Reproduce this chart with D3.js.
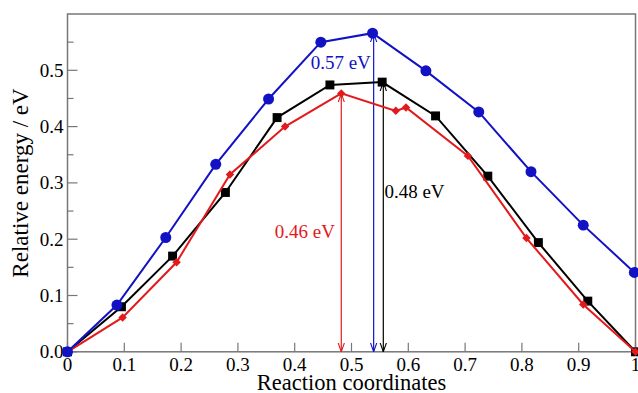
<!DOCTYPE html>
<html>
<head>
<meta charset="utf-8">
<script src="https://cdn.jsdelivr.net/npm/d3@7"></script>
<style>
  body { margin: 0; background: #fff; }
  svg { display: block; font-family: 'Liberation Serif', 'DejaVu Serif', serif; }
</style>
</head>
<body>
<div class="chart"></div>
<script>
const width = 638;
const height = 393;

// reaction coordinate / relative energy (eV)
const blueX = [0, 0.087, 0.173, 0.261, 0.354, 0.446, 0.537, 0.631, 0.724, 0.816, 0.908, 0.998];
const blueY = [0, 0.083, 0.203, 0.333, 0.449, 0.550, 0.566, 0.499, 0.426, 0.320, 0.225, 0.141];
const blackX = [0, 0.095, 0.185, 0.278, 0.369, 0.462, 0.554, 0.648, 0.740, 0.829, 0.916, 1.0];
const blackY = [0, 0.080, 0.170, 0.283, 0.416, 0.474, 0.479, 0.419, 0.312, 0.194, 0.090, 0];
const redX = [0, 0.097, 0.192, 0.286, 0.383, 0.482, 0.578, 0.596, 0.705, 0.808, 0.908, 1.0];
const redY = [0, 0.061, 0.159, 0.315, 0.400, 0.459, 0.428, 0.434, 0.348, 0.202, 0.084, 0];

// barrier arrows
const barriers = [
  { x: 0.482, top: 0.459, color: '#e31a1c', label: '0.46 eV', lx: 0.471, ly: 0.202, anchor: 'end' },
  { x: 0.539, top: 0.566, color: '#1212c4', label: '0.57 eV', lx: 0.534, ly: 0.502, anchor: 'end' },
  { x: 0.556, top: 0.479, color: '#000', label: '0.48 eV', lx: 0.558, ly: 0.273, anchor: 'start' },
];

const xTicks = [0, 0.1, 0.2, 0.3, 0.4, 0.5, 0.6, 0.7, 0.8, 0.9, 1];
const xTickLabels = ['0', '0.1', '0.2', '0.3', '0.4', '0.5', '0.6', '0.7', '0.8', '0.9', '1'];
const yTicks = [0, 0.1, 0.2, 0.3, 0.4, 0.5];
const yMinor = [0.05, 0.15, 0.25, 0.35, 0.45, 0.55];

const margin = { left: 67.5, right: 2.5, top: 14, bottom: 41.2 };

const svg = d3
  .select('.chart')
  .append('svg')
  .attr('width', width)
  .attr('height', height);

const x = d3.scaleLinear().domain([0, 1]).range([margin.left, width - margin.right]);
const y = d3.scaleLinear().domain([0, 0.6]).range([height - margin.bottom, margin.top]);

// arrow markers
const defs = svg.append('defs');
barriers.forEach((b, i) => {
  defs
    .append('marker')
    .attr('id', 'arr' + i)
    .attr('viewBox', '0 0 10 10')
    .attr('refX', 10)
    .attr('refY', 5)
    .attr('markerWidth', 9)
    .attr('markerHeight', 9)
    .attr('markerUnits', 'userSpaceOnUse')
    .attr('orient', 'auto-start-reverse')
    .append('path')
    .attr('d', 'M0,1.5L10,5L0,8.5')
    .attr('fill', 'none')
    .attr('stroke', b.color)
    .attr('stroke-width', 1.2);
});

// frame
svg
  .append('rect')
  .attr('x', x(0))
  .attr('y', y(0.6))
  .attr('width', x(1) - x(0))
  .attr('height', y(0) - y(0.6))
  .attr('fill', 'none')
  .attr('stroke', '#777')
  .attr('stroke-width', 1.5);

// ticks (inward)
svg
  .append('g')
  .selectAll('line')
  .data(xTicks)
  .join('line')
  .attr('x1', (d) => x(d))
  .attr('x2', (d) => x(d))
  .attr('y1', y(0))
  .attr('y2', y(0) - 9)
  .attr('stroke', '#777')
  .attr('stroke-width', 1.2);

svg
  .append('g')
  .selectAll('line')
  .data(yTicks)
  .join('line')
  .attr('x1', x(0))
  .attr('x2', x(0) + 10)
  .attr('y1', (d) => y(d))
  .attr('y2', (d) => y(d))
  .attr('stroke', '#777')
  .attr('stroke-width', 1.2);

svg
  .append('g')
  .selectAll('line')
  .data(yMinor)
  .join('line')
  .attr('x1', x(0))
  .attr('x2', x(0) + 6)
  .attr('y1', (d) => y(d))
  .attr('y2', (d) => y(d))
  .attr('stroke', '#777')
  .attr('stroke-width', 1.2);

// tick labels
svg
  .append('g')
  .selectAll('text')
  .data(xTicks)
  .join('text')
  .attr('x', (d) => x(d))
  .attr('y', y(0) + 19)
  .attr('text-anchor', 'middle')
  .attr('font-size', 19)
  .text((d, i) => xTickLabels[i]);

svg
  .append('g')
  .selectAll('text')
  .data(yTicks)
  .join('text')
  .attr('x', x(0) - 4)
  .attr('y', (d) => y(d))
  .attr('dy', '0.34em')
  .attr('text-anchor', 'end')
  .attr('font-size', 19)
  .text((d) => d.toFixed(1));

// axis titles
svg
  .append('text')
  .attr('x', (x(0) + x(1)) / 2)
  .attr('y', height - 3)
  .attr('text-anchor', 'middle')
  .attr('font-size', 22.5)
  .text('Reaction coordinates');

svg
  .append('text')
  .attr('transform', `translate(28,183) rotate(-90)`)
  .attr('text-anchor', 'middle')
  .attr('font-size', 23)
  .text('Relative energy / eV');

// barrier arrows and labels
barriers.forEach((b, i) => {
  svg
    .append('line')
    .attr('x1', x(b.x))
    .attr('x2', x(b.x))
    .attr('y1', y(0))
    .attr('y2', y(b.top))
    .attr('stroke', b.color)
    .attr('stroke-width', 1.2)
    .attr('marker-start', `url(#arr${i})`)
    .attr('marker-end', `url(#arr${i})`);

  svg
    .append('text')
    .attr('x', x(b.lx))
    .attr('y', y(b.ly))
    .attr('text-anchor', b.anchor)
    .attr('fill', b.color)
    .attr('font-size', 19)
    .text(b.label);
});

// series
const series = [
  { xs: blackX, ys: blackY, color: '#000', shape: d3.symbolSquare, size: 80, rot: 0 },
  { xs: redX, ys: redY, color: '#e31a1c', shape: d3.symbolSquare, size: 36, rot: 45 },
  { xs: blueX, ys: blueY, color: '#1212c4', shape: d3.symbolCircle, size: 95, rot: 0 },
];

const line = d3
  .line()
  .x((d) => x(d[0]))
  .y((d) => y(d[1]));

series.forEach((s) => {
  const pts = s.xs.map((v, i) => [v, s.ys[i]]);
  svg
    .append('path')
    .datum(pts)
    .attr('d', line)
    .attr('fill', 'none')
    .attr('stroke', s.color)
    .attr('stroke-width', 2);

  svg
    .append('g')
    .selectAll('path')
    .data(pts)
    .join('path')
    .attr('transform', (d) => `translate(${x(d[0])},${y(d[1])}) rotate(${s.rot})`)
    .attr('d', d3.symbol().type(s.shape).size(s.size))
    .attr('fill', s.color);
});
</script>
</body>
</html>
